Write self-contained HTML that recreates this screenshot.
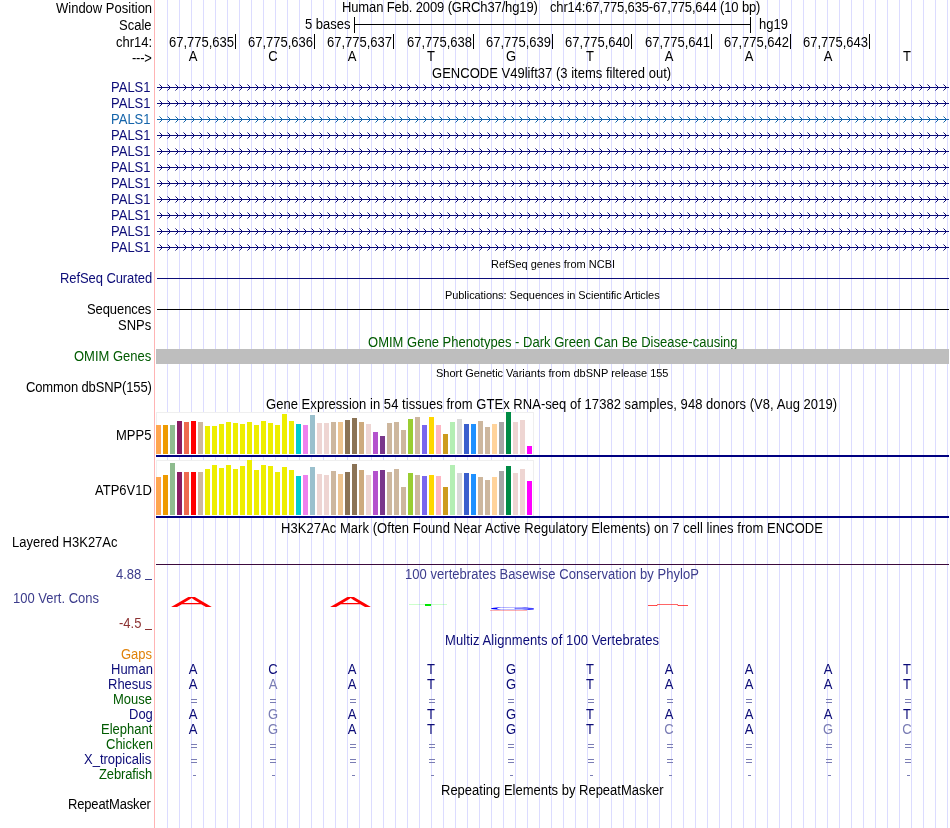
<!DOCTYPE html>
<html><head><meta charset="utf-8"><style>
html,body{margin:0;padding:0;background:#fff;}
#p{position:relative;width:950px;height:828px;overflow:hidden;background:#fff;font-family:"Liberation Sans",sans-serif;}
.t{position:absolute;white-space:pre;will-change:transform;transform:scaleY(1.06);}
.c{width:1000px;text-align:center;}
.r{position:absolute;}
</style></head><body><div id="p">
<div class="r" style="left:167px;top:0px;width:1px;height:828px;background:#dcdcff;"></div>
<div class="r" style="left:179px;top:0px;width:1px;height:828px;background:#dcdcff;"></div>
<div class="r" style="left:191px;top:0px;width:1px;height:828px;background:#dcdcff;"></div>
<div class="r" style="left:203px;top:0px;width:1px;height:828px;background:#dcdcff;"></div>
<div class="r" style="left:215px;top:0px;width:1px;height:828px;background:#dcdcff;"></div>
<div class="r" style="left:227px;top:0px;width:1px;height:828px;background:#dcdcff;"></div>
<div class="r" style="left:239px;top:0px;width:1px;height:828px;background:#dcdcff;"></div>
<div class="r" style="left:251px;top:0px;width:1px;height:828px;background:#dcdcff;"></div>
<div class="r" style="left:263px;top:0px;width:1px;height:828px;background:#dcdcff;"></div>
<div class="r" style="left:275px;top:0px;width:1px;height:828px;background:#dcdcff;"></div>
<div class="r" style="left:287px;top:0px;width:1px;height:828px;background:#dcdcff;"></div>
<div class="r" style="left:299px;top:0px;width:1px;height:828px;background:#dcdcff;"></div>
<div class="r" style="left:311px;top:0px;width:1px;height:828px;background:#dcdcff;"></div>
<div class="r" style="left:323px;top:0px;width:1px;height:828px;background:#dcdcff;"></div>
<div class="r" style="left:335px;top:0px;width:1px;height:828px;background:#dcdcff;"></div>
<div class="r" style="left:347px;top:0px;width:1px;height:828px;background:#dcdcff;"></div>
<div class="r" style="left:359px;top:0px;width:1px;height:828px;background:#dcdcff;"></div>
<div class="r" style="left:371px;top:0px;width:1px;height:828px;background:#dcdcff;"></div>
<div class="r" style="left:383px;top:0px;width:1px;height:828px;background:#dcdcff;"></div>
<div class="r" style="left:395px;top:0px;width:1px;height:828px;background:#dcdcff;"></div>
<div class="r" style="left:407px;top:0px;width:1px;height:828px;background:#dcdcff;"></div>
<div class="r" style="left:419px;top:0px;width:1px;height:828px;background:#dcdcff;"></div>
<div class="r" style="left:431px;top:0px;width:1px;height:828px;background:#dcdcff;"></div>
<div class="r" style="left:443px;top:0px;width:1px;height:828px;background:#dcdcff;"></div>
<div class="r" style="left:455px;top:0px;width:1px;height:828px;background:#dcdcff;"></div>
<div class="r" style="left:467px;top:0px;width:1px;height:828px;background:#dcdcff;"></div>
<div class="r" style="left:479px;top:0px;width:1px;height:828px;background:#dcdcff;"></div>
<div class="r" style="left:491px;top:0px;width:1px;height:828px;background:#dcdcff;"></div>
<div class="r" style="left:503px;top:0px;width:1px;height:828px;background:#dcdcff;"></div>
<div class="r" style="left:515px;top:0px;width:1px;height:828px;background:#dcdcff;"></div>
<div class="r" style="left:527px;top:0px;width:1px;height:828px;background:#dcdcff;"></div>
<div class="r" style="left:539px;top:0px;width:1px;height:828px;background:#dcdcff;"></div>
<div class="r" style="left:551px;top:0px;width:1px;height:828px;background:#dcdcff;"></div>
<div class="r" style="left:563px;top:0px;width:1px;height:828px;background:#dcdcff;"></div>
<div class="r" style="left:575px;top:0px;width:1px;height:828px;background:#dcdcff;"></div>
<div class="r" style="left:587px;top:0px;width:1px;height:828px;background:#dcdcff;"></div>
<div class="r" style="left:599px;top:0px;width:1px;height:828px;background:#dcdcff;"></div>
<div class="r" style="left:611px;top:0px;width:1px;height:828px;background:#dcdcff;"></div>
<div class="r" style="left:623px;top:0px;width:1px;height:828px;background:#dcdcff;"></div>
<div class="r" style="left:635px;top:0px;width:1px;height:828px;background:#dcdcff;"></div>
<div class="r" style="left:647px;top:0px;width:1px;height:828px;background:#dcdcff;"></div>
<div class="r" style="left:659px;top:0px;width:1px;height:828px;background:#dcdcff;"></div>
<div class="r" style="left:671px;top:0px;width:1px;height:828px;background:#dcdcff;"></div>
<div class="r" style="left:683px;top:0px;width:1px;height:828px;background:#dcdcff;"></div>
<div class="r" style="left:695px;top:0px;width:1px;height:828px;background:#dcdcff;"></div>
<div class="r" style="left:707px;top:0px;width:1px;height:828px;background:#dcdcff;"></div>
<div class="r" style="left:719px;top:0px;width:1px;height:828px;background:#dcdcff;"></div>
<div class="r" style="left:731px;top:0px;width:1px;height:828px;background:#dcdcff;"></div>
<div class="r" style="left:743px;top:0px;width:1px;height:828px;background:#dcdcff;"></div>
<div class="r" style="left:755px;top:0px;width:1px;height:828px;background:#dcdcff;"></div>
<div class="r" style="left:767px;top:0px;width:1px;height:828px;background:#dcdcff;"></div>
<div class="r" style="left:779px;top:0px;width:1px;height:828px;background:#dcdcff;"></div>
<div class="r" style="left:791px;top:0px;width:1px;height:828px;background:#dcdcff;"></div>
<div class="r" style="left:803px;top:0px;width:1px;height:828px;background:#dcdcff;"></div>
<div class="r" style="left:815px;top:0px;width:1px;height:828px;background:#dcdcff;"></div>
<div class="r" style="left:827px;top:0px;width:1px;height:828px;background:#dcdcff;"></div>
<div class="r" style="left:839px;top:0px;width:1px;height:828px;background:#dcdcff;"></div>
<div class="r" style="left:851px;top:0px;width:1px;height:828px;background:#dcdcff;"></div>
<div class="r" style="left:863px;top:0px;width:1px;height:828px;background:#dcdcff;"></div>
<div class="r" style="left:875px;top:0px;width:1px;height:828px;background:#dcdcff;"></div>
<div class="r" style="left:887px;top:0px;width:1px;height:828px;background:#dcdcff;"></div>
<div class="r" style="left:899px;top:0px;width:1px;height:828px;background:#dcdcff;"></div>
<div class="r" style="left:911px;top:0px;width:1px;height:828px;background:#dcdcff;"></div>
<div class="r" style="left:923px;top:0px;width:1px;height:828px;background:#dcdcff;"></div>
<div class="r" style="left:935px;top:0px;width:1px;height:828px;background:#dcdcff;"></div>
<div class="r" style="left:947px;top:0px;width:1px;height:828px;background:#dcdcff;"></div>
<div class="r" style="left:154px;top:0px;width:1px;height:828px;background:#ffb4b4;"></div>
<div class="t" style="left:56.25px;top:2px;font-size:13px;line-height:13px;color:#000;transform-origin:0 11px;">Window Position</div>
<div class="t" style="left:118.95px;top:19px;font-size:13px;line-height:13px;color:#000;transform-origin:0 11px;">Scale</div>
<div class="t" style="left:116.25px;top:36px;font-size:13px;line-height:13px;color:#000;transform-origin:0 11px;">chr14:</div>
<div class="t" style="left:132.0px;top:52px;font-size:13px;line-height:13px;color:#000;transform-origin:0 11px;letter-spacing:-0.25px;">---&gt;</div>
<div class="t" style="left:341.9px;top:1px;font-size:13px;line-height:13px;color:#000;transform-origin:0 11px;letter-spacing:-0.128px;">Human Feb. 2009 (GRCh37/hg19)</div>
<div class="t" style="left:550.4px;top:1px;font-size:13px;line-height:13px;color:#000;transform-origin:0 11px;letter-spacing:-0.147px;">chr14:67,775,635-67,775,644 (10 bp)</div>
<div class="t" style="left:304.65px;top:18px;font-size:13px;line-height:13px;color:#000;transform-origin:0 11px;">5 bases</div>
<div class="r" style="left:354px;top:24px;width:397px;height:1px;background:#000;"></div>
<div class="r" style="left:354px;top:17px;width:1px;height:16px;background:#000;"></div>
<div class="r" style="left:750px;top:17px;width:1px;height:16px;background:#000;"></div>
<div class="t" style="left:759.1px;top:18px;font-size:13px;line-height:13px;color:#000;transform-origin:0 11px;">hg19</div>
<div class="r" style="left:235px;top:34px;width:1px;height:15px;background:#000;"></div>
<div class="t" style="right:716px;top:36px;font-size:13px;line-height:13px;color:#000;transform-origin:0 11px;">67,775,635</div>
<div class="r" style="left:314px;top:34px;width:1px;height:15px;background:#000;"></div>
<div class="t" style="right:637px;top:36px;font-size:13px;line-height:13px;color:#000;transform-origin:0 11px;">67,775,636</div>
<div class="r" style="left:393px;top:34px;width:1px;height:15px;background:#000;"></div>
<div class="t" style="right:558px;top:36px;font-size:13px;line-height:13px;color:#000;transform-origin:0 11px;">67,775,637</div>
<div class="r" style="left:473px;top:34px;width:1px;height:15px;background:#000;"></div>
<div class="t" style="right:478px;top:36px;font-size:13px;line-height:13px;color:#000;transform-origin:0 11px;">67,775,638</div>
<div class="r" style="left:552px;top:34px;width:1px;height:15px;background:#000;"></div>
<div class="t" style="right:399px;top:36px;font-size:13px;line-height:13px;color:#000;transform-origin:0 11px;">67,775,639</div>
<div class="r" style="left:631px;top:34px;width:1px;height:15px;background:#000;"></div>
<div class="t" style="right:320px;top:36px;font-size:13px;line-height:13px;color:#000;transform-origin:0 11px;">67,775,640</div>
<div class="r" style="left:711px;top:34px;width:1px;height:15px;background:#000;"></div>
<div class="t" style="right:240px;top:36px;font-size:13px;line-height:13px;color:#000;transform-origin:0 11px;">67,775,641</div>
<div class="r" style="left:790px;top:34px;width:1px;height:15px;background:#000;"></div>
<div class="t" style="right:161px;top:36px;font-size:13px;line-height:13px;color:#000;transform-origin:0 11px;">67,775,642</div>
<div class="r" style="left:869px;top:34px;width:1px;height:15px;background:#000;"></div>
<div class="t" style="right:82px;top:36px;font-size:13px;line-height:13px;color:#000;transform-origin:0 11px;">67,775,643</div>
<div class="t c" style="left:-306.6px;top:50px;font-size:13px;line-height:13px;color:#000;transform-origin:0 11px;">A</div>
<div class="t c" style="left:-227.3px;top:50px;font-size:13px;line-height:13px;color:#000;transform-origin:0 11px;">C</div>
<div class="t c" style="left:-148.0px;top:50px;font-size:13px;line-height:13px;color:#000;transform-origin:0 11px;">A</div>
<div class="t c" style="left:-68.69999999999999px;top:50px;font-size:13px;line-height:13px;color:#000;transform-origin:0 11px;">T</div>
<div class="t c" style="left:10.599999999999966px;top:50px;font-size:13px;line-height:13px;color:#000;transform-origin:0 11px;">G</div>
<div class="t c" style="left:89.89999999999998px;top:50px;font-size:13px;line-height:13px;color:#000;transform-origin:0 11px;">T</div>
<div class="t c" style="left:169.19999999999993px;top:50px;font-size:13px;line-height:13px;color:#000;transform-origin:0 11px;">A</div>
<div class="t c" style="left:248.5px;top:50px;font-size:13px;line-height:13px;color:#000;transform-origin:0 11px;">A</div>
<div class="t c" style="left:327.79999999999995px;top:50px;font-size:13px;line-height:13px;color:#000;transform-origin:0 11px;">A</div>
<div class="t c" style="left:407.1px;top:50px;font-size:13px;line-height:13px;color:#000;transform-origin:0 11px;">T</div>
<div class="t" style="left:432.4px;top:67px;font-size:13px;line-height:13px;color:#000;transform-origin:0 11px;letter-spacing:0.02px;">GENCODE V49lift37 (3 items filtered out)</div>
<div class="t" style="left:111.0px;top:81px;font-size:13px;line-height:13px;color:#0c0c78;transform-origin:0 11px;">PALS1</div>
<svg class="r" style="left:155px;top:84px" width="795" height="7" shape-rendering="crispEdges"><defs><pattern id="ch0" x="0" y="0" width="8" height="7" patternUnits="userSpaceOnUse"><rect x="4" y="0" width="1" height="1" fill="#0c0c78" fill-opacity="0.55"/><rect x="5" y="1" width="1" height="1" fill="#0c0c78"/><rect x="6" y="2" width="1" height="3" fill="#0c0c78"/><rect x="5" y="5" width="1" height="1" fill="#0c0c78"/><rect x="4" y="6" width="1" height="1" fill="#0c0c78" fill-opacity="0.55"/></pattern></defs><rect x="2" y="3" width="792" height="1" fill="#0c0c78"/><rect x="2" y="0" width="792" height="7" fill="url(#ch0)"/></svg>
<div class="t" style="left:111.0px;top:97px;font-size:13px;line-height:13px;color:#0c0c78;transform-origin:0 11px;">PALS1</div>
<svg class="r" style="left:155px;top:100px" width="795" height="7" shape-rendering="crispEdges"><defs><pattern id="ch1" x="0" y="0" width="8" height="7" patternUnits="userSpaceOnUse"><rect x="4" y="0" width="1" height="1" fill="#0c0c78" fill-opacity="0.55"/><rect x="5" y="1" width="1" height="1" fill="#0c0c78"/><rect x="6" y="2" width="1" height="3" fill="#0c0c78"/><rect x="5" y="5" width="1" height="1" fill="#0c0c78"/><rect x="4" y="6" width="1" height="1" fill="#0c0c78" fill-opacity="0.55"/></pattern></defs><rect x="2" y="3" width="792" height="1" fill="#0c0c78"/><rect x="2" y="0" width="792" height="7" fill="url(#ch1)"/></svg>
<div class="t" style="left:111.0px;top:113px;font-size:13px;line-height:13px;color:#1464aa;transform-origin:0 11px;">PALS1</div>
<svg class="r" style="left:155px;top:116px" width="795" height="7" shape-rendering="crispEdges"><defs><pattern id="ch2" x="0" y="0" width="8" height="7" patternUnits="userSpaceOnUse"><rect x="4" y="0" width="1" height="1" fill="#1464aa" fill-opacity="0.55"/><rect x="5" y="1" width="1" height="1" fill="#1464aa"/><rect x="6" y="2" width="1" height="3" fill="#1464aa"/><rect x="5" y="5" width="1" height="1" fill="#1464aa"/><rect x="4" y="6" width="1" height="1" fill="#1464aa" fill-opacity="0.55"/></pattern></defs><rect x="2" y="3" width="792" height="1" fill="#1464aa"/><rect x="2" y="0" width="792" height="7" fill="url(#ch2)"/></svg>
<div class="t" style="left:111.0px;top:129px;font-size:13px;line-height:13px;color:#0c0c78;transform-origin:0 11px;">PALS1</div>
<svg class="r" style="left:155px;top:132px" width="795" height="7" shape-rendering="crispEdges"><defs><pattern id="ch3" x="0" y="0" width="8" height="7" patternUnits="userSpaceOnUse"><rect x="4" y="0" width="1" height="1" fill="#0c0c78" fill-opacity="0.55"/><rect x="5" y="1" width="1" height="1" fill="#0c0c78"/><rect x="6" y="2" width="1" height="3" fill="#0c0c78"/><rect x="5" y="5" width="1" height="1" fill="#0c0c78"/><rect x="4" y="6" width="1" height="1" fill="#0c0c78" fill-opacity="0.55"/></pattern></defs><rect x="2" y="3" width="792" height="1" fill="#0c0c78"/><rect x="2" y="0" width="792" height="7" fill="url(#ch3)"/></svg>
<div class="t" style="left:111.0px;top:145px;font-size:13px;line-height:13px;color:#0c0c78;transform-origin:0 11px;">PALS1</div>
<svg class="r" style="left:155px;top:148px" width="795" height="7" shape-rendering="crispEdges"><defs><pattern id="ch4" x="0" y="0" width="8" height="7" patternUnits="userSpaceOnUse"><rect x="4" y="0" width="1" height="1" fill="#0c0c78" fill-opacity="0.55"/><rect x="5" y="1" width="1" height="1" fill="#0c0c78"/><rect x="6" y="2" width="1" height="3" fill="#0c0c78"/><rect x="5" y="5" width="1" height="1" fill="#0c0c78"/><rect x="4" y="6" width="1" height="1" fill="#0c0c78" fill-opacity="0.55"/></pattern></defs><rect x="2" y="3" width="792" height="1" fill="#0c0c78"/><rect x="2" y="0" width="792" height="7" fill="url(#ch4)"/></svg>
<div class="t" style="left:111.0px;top:161px;font-size:13px;line-height:13px;color:#0c0c78;transform-origin:0 11px;">PALS1</div>
<svg class="r" style="left:155px;top:164px" width="795" height="7" shape-rendering="crispEdges"><defs><pattern id="ch5" x="0" y="0" width="8" height="7" patternUnits="userSpaceOnUse"><rect x="4" y="0" width="1" height="1" fill="#0c0c78" fill-opacity="0.55"/><rect x="5" y="1" width="1" height="1" fill="#0c0c78"/><rect x="6" y="2" width="1" height="3" fill="#0c0c78"/><rect x="5" y="5" width="1" height="1" fill="#0c0c78"/><rect x="4" y="6" width="1" height="1" fill="#0c0c78" fill-opacity="0.55"/></pattern></defs><rect x="2" y="3" width="792" height="1" fill="#0c0c78"/><rect x="2" y="0" width="792" height="7" fill="url(#ch5)"/></svg>
<div class="t" style="left:111.0px;top:177px;font-size:13px;line-height:13px;color:#0c0c78;transform-origin:0 11px;">PALS1</div>
<svg class="r" style="left:155px;top:180px" width="795" height="7" shape-rendering="crispEdges"><defs><pattern id="ch6" x="0" y="0" width="8" height="7" patternUnits="userSpaceOnUse"><rect x="4" y="0" width="1" height="1" fill="#0c0c78" fill-opacity="0.55"/><rect x="5" y="1" width="1" height="1" fill="#0c0c78"/><rect x="6" y="2" width="1" height="3" fill="#0c0c78"/><rect x="5" y="5" width="1" height="1" fill="#0c0c78"/><rect x="4" y="6" width="1" height="1" fill="#0c0c78" fill-opacity="0.55"/></pattern></defs><rect x="2" y="3" width="792" height="1" fill="#0c0c78"/><rect x="2" y="0" width="792" height="7" fill="url(#ch6)"/></svg>
<div class="t" style="left:111.0px;top:193px;font-size:13px;line-height:13px;color:#0c0c78;transform-origin:0 11px;">PALS1</div>
<svg class="r" style="left:155px;top:196px" width="795" height="7" shape-rendering="crispEdges"><defs><pattern id="ch7" x="0" y="0" width="8" height="7" patternUnits="userSpaceOnUse"><rect x="4" y="0" width="1" height="1" fill="#0c0c78" fill-opacity="0.55"/><rect x="5" y="1" width="1" height="1" fill="#0c0c78"/><rect x="6" y="2" width="1" height="3" fill="#0c0c78"/><rect x="5" y="5" width="1" height="1" fill="#0c0c78"/><rect x="4" y="6" width="1" height="1" fill="#0c0c78" fill-opacity="0.55"/></pattern></defs><rect x="2" y="3" width="792" height="1" fill="#0c0c78"/><rect x="2" y="0" width="792" height="7" fill="url(#ch7)"/></svg>
<div class="t" style="left:111.0px;top:209px;font-size:13px;line-height:13px;color:#0c0c78;transform-origin:0 11px;">PALS1</div>
<svg class="r" style="left:155px;top:212px" width="795" height="7" shape-rendering="crispEdges"><defs><pattern id="ch8" x="0" y="0" width="8" height="7" patternUnits="userSpaceOnUse"><rect x="4" y="0" width="1" height="1" fill="#0c0c78" fill-opacity="0.55"/><rect x="5" y="1" width="1" height="1" fill="#0c0c78"/><rect x="6" y="2" width="1" height="3" fill="#0c0c78"/><rect x="5" y="5" width="1" height="1" fill="#0c0c78"/><rect x="4" y="6" width="1" height="1" fill="#0c0c78" fill-opacity="0.55"/></pattern></defs><rect x="2" y="3" width="792" height="1" fill="#0c0c78"/><rect x="2" y="0" width="792" height="7" fill="url(#ch8)"/></svg>
<div class="t" style="left:111.0px;top:225px;font-size:13px;line-height:13px;color:#0c0c78;transform-origin:0 11px;">PALS1</div>
<svg class="r" style="left:155px;top:228px" width="795" height="7" shape-rendering="crispEdges"><defs><pattern id="ch9" x="0" y="0" width="8" height="7" patternUnits="userSpaceOnUse"><rect x="4" y="0" width="1" height="1" fill="#0c0c78" fill-opacity="0.55"/><rect x="5" y="1" width="1" height="1" fill="#0c0c78"/><rect x="6" y="2" width="1" height="3" fill="#0c0c78"/><rect x="5" y="5" width="1" height="1" fill="#0c0c78"/><rect x="4" y="6" width="1" height="1" fill="#0c0c78" fill-opacity="0.55"/></pattern></defs><rect x="2" y="3" width="792" height="1" fill="#0c0c78"/><rect x="2" y="0" width="792" height="7" fill="url(#ch9)"/></svg>
<div class="t" style="left:111.0px;top:241px;font-size:13px;line-height:13px;color:#0c0c78;transform-origin:0 11px;">PALS1</div>
<svg class="r" style="left:155px;top:244px" width="795" height="7" shape-rendering="crispEdges"><defs><pattern id="ch10" x="0" y="0" width="8" height="7" patternUnits="userSpaceOnUse"><rect x="4" y="0" width="1" height="1" fill="#0c0c78" fill-opacity="0.55"/><rect x="5" y="1" width="1" height="1" fill="#0c0c78"/><rect x="6" y="2" width="1" height="3" fill="#0c0c78"/><rect x="5" y="5" width="1" height="1" fill="#0c0c78"/><rect x="4" y="6" width="1" height="1" fill="#0c0c78" fill-opacity="0.55"/></pattern></defs><rect x="2" y="3" width="792" height="1" fill="#0c0c78"/><rect x="2" y="0" width="792" height="7" fill="url(#ch10)"/></svg>
<div class="t" style="left:490.5px;top:259px;font-size:11px;line-height:11px;color:#000;transform-origin:0 9px;">RefSeq genes from NCBI</div>
<div class="t" style="left:59.65px;top:272px;font-size:13px;line-height:13px;color:#0c0c78;transform-origin:0 11px;letter-spacing:-0.083px;">RefSeq Curated</div>
<div class="r" style="left:157px;top:278px;width:792px;height:1px;background:#0c0c78;"></div>
<div class="t" style="left:445px;top:290px;font-size:11px;line-height:11px;color:#000;transform-origin:0 9px;letter-spacing:-0.067px;">Publications: Sequences in Scientific Articles</div>
<div class="t" style="left:86.7px;top:303px;font-size:13px;line-height:13px;color:#000;transform-origin:0 11px;letter-spacing:-0.09px;">Sequences</div>
<div class="r" style="left:157px;top:309px;width:792px;height:1px;background:#000;"></div>
<div class="t" style="left:117.7px;top:319px;font-size:13px;line-height:13px;color:#000;transform-origin:0 11px;">SNPs</div>
<div class="t" style="left:367.6px;top:336px;font-size:13px;line-height:13px;color:#005a00;transform-origin:0 11px;letter-spacing:0.02px;">OMIM Gene Phenotypes - Dark Green Can Be Disease-causing</div>
<div class="t" style="left:74.1px;top:350px;font-size:13px;line-height:13px;color:#005a00;transform-origin:0 11px;">OMIM Genes</div>
<div class="r" style="left:156px;top:349px;width:793px;height:15px;background:#bebebe;"></div>
<div class="t" style="left:435.6px;top:368px;font-size:11px;line-height:11px;color:#000;transform-origin:0 9px;letter-spacing:-0.016px;">Short Genetic Variants from dbSNP release 155</div>
<div class="t" style="left:26.25px;top:381px;font-size:13px;line-height:13px;color:#000;transform-origin:0 11px;letter-spacing:-0.126px;">Common dbSNP(155)</div>
<div class="t" style="left:266.4px;top:398px;font-size:13px;line-height:13px;color:#000;transform-origin:0 11px;letter-spacing:0.042px;">Gene Expression in 54 tissues from GTEx RNA-seq of 17382 samples, 948 donors (V8, Aug 2019)</div>
<div class="r" style="left:156px;top:412px;width:378px;height:43px;background:#fff;box-shadow:inset 1px 1px 0 #efefef, inset -1px 0 0 #efefef"></div>
<div class="r" style="left:156px;top:425px;width:5px;height:29px;background:#FFA54F;"></div>
<div class="r" style="left:163px;top:425px;width:5px;height:29px;background:#EE9A00;"></div>
<div class="r" style="left:170px;top:425px;width:5px;height:29px;background:#8FBC8F;"></div>
<div class="r" style="left:177px;top:421px;width:5px;height:33px;background:#8B1C62;"></div>
<div class="r" style="left:184px;top:422px;width:5px;height:32px;background:#EE6A50;"></div>
<div class="r" style="left:191px;top:421px;width:5px;height:33px;background:#FF0000;"></div>
<div class="r" style="left:198px;top:422px;width:5px;height:32px;background:#CDB79E;"></div>
<div class="r" style="left:205px;top:426px;width:5px;height:28px;background:#EEEE00;"></div>
<div class="r" style="left:212px;top:426px;width:5px;height:28px;background:#EEEE00;"></div>
<div class="r" style="left:219px;top:424px;width:5px;height:30px;background:#EEEE00;"></div>
<div class="r" style="left:226px;top:422px;width:5px;height:32px;background:#EEEE00;"></div>
<div class="r" style="left:233px;top:423px;width:5px;height:31px;background:#EEEE00;"></div>
<div class="r" style="left:240px;top:424px;width:5px;height:30px;background:#EEEE00;"></div>
<div class="r" style="left:247px;top:422px;width:5px;height:32px;background:#EEEE00;"></div>
<div class="r" style="left:254px;top:425px;width:5px;height:29px;background:#EEEE00;"></div>
<div class="r" style="left:261px;top:421px;width:5px;height:33px;background:#EEEE00;"></div>
<div class="r" style="left:268px;top:423px;width:5px;height:31px;background:#EEEE00;"></div>
<div class="r" style="left:275px;top:425px;width:5px;height:29px;background:#EEEE00;"></div>
<div class="r" style="left:282px;top:414px;width:5px;height:40px;background:#EEEE00;"></div>
<div class="r" style="left:289px;top:421px;width:5px;height:33px;background:#EEEE00;"></div>
<div class="r" style="left:296px;top:424px;width:5px;height:30px;background:#00CDCD;"></div>
<div class="r" style="left:303px;top:425px;width:5px;height:29px;background:#EE82EE;"></div>
<div class="r" style="left:310px;top:415px;width:5px;height:39px;background:#9AC0CD;"></div>
<div class="r" style="left:317px;top:423px;width:5px;height:31px;background:#EED5D2;"></div>
<div class="r" style="left:324px;top:423px;width:5px;height:31px;background:#EED5D2;"></div>
<div class="r" style="left:331px;top:422px;width:5px;height:32px;background:#CDB79E;"></div>
<div class="r" style="left:338px;top:422px;width:5px;height:32px;background:#EEC591;"></div>
<div class="r" style="left:345px;top:420px;width:5px;height:34px;background:#8B7355;"></div>
<div class="r" style="left:352px;top:418px;width:5px;height:36px;background:#8B7355;"></div>
<div class="r" style="left:359px;top:422px;width:5px;height:32px;background:#CDAA7D;"></div>
<div class="r" style="left:366px;top:424px;width:5px;height:30px;background:#EED5D2;"></div>
<div class="r" style="left:373px;top:432px;width:5px;height:22px;background:#B452CD;"></div>
<div class="r" style="left:380px;top:436px;width:5px;height:18px;background:#7A378B;"></div>
<div class="r" style="left:387px;top:423px;width:5px;height:31px;background:#CDB79E;"></div>
<div class="r" style="left:394px;top:422px;width:5px;height:32px;background:#CDB79E;"></div>
<div class="r" style="left:401px;top:430px;width:5px;height:24px;background:#CDB79E;"></div>
<div class="r" style="left:408px;top:419px;width:5px;height:35px;background:#9ACD32;"></div>
<div class="r" style="left:415px;top:417px;width:5px;height:37px;background:#CDB79E;"></div>
<div class="r" style="left:422px;top:425px;width:5px;height:29px;background:#7A67EE;"></div>
<div class="r" style="left:429px;top:417px;width:5px;height:37px;background:#FFD700;"></div>
<div class="r" style="left:436px;top:425px;width:5px;height:29px;background:#FFB6C1;"></div>
<div class="r" style="left:443px;top:434px;width:5px;height:20px;background:#CD9B1D;"></div>
<div class="r" style="left:450px;top:422px;width:5px;height:32px;background:#B4EEB4;"></div>
<div class="r" style="left:457px;top:419px;width:5px;height:35px;background:#D9D9D9;"></div>
<div class="r" style="left:464px;top:424px;width:5px;height:30px;background:#3A5FCD;"></div>
<div class="r" style="left:471px;top:424px;width:5px;height:30px;background:#1E90FF;"></div>
<div class="r" style="left:478px;top:421px;width:5px;height:33px;background:#CDB79E;"></div>
<div class="r" style="left:485px;top:427px;width:5px;height:27px;background:#CDB79E;"></div>
<div class="r" style="left:492px;top:424px;width:5px;height:30px;background:#FFD39B;"></div>
<div class="r" style="left:499px;top:422px;width:5px;height:32px;background:#A6A6A6;"></div>
<div class="r" style="left:506px;top:412px;width:5px;height:42px;background:#008B45;"></div>
<div class="r" style="left:513px;top:422px;width:5px;height:32px;background:#EED5D2;"></div>
<div class="r" style="left:520px;top:420px;width:5px;height:34px;background:#EED5D2;"></div>
<div class="r" style="left:527px;top:446px;width:5px;height:8px;background:#FF00FF;"></div>
<div class="r" style="left:156px;top:455px;width:793px;height:2px;background:#000080;"></div>
<div class="t" style="left:116.35px;top:429px;font-size:13px;line-height:13px;color:#000;transform-origin:0 11px;">MPP5</div>
<div class="r" style="left:156px;top:460px;width:378px;height:56px;background:#fff;box-shadow:inset 1px 1px 0 #efefef, inset -1px 0 0 #efefef"></div>
<div class="r" style="left:156px;top:477px;width:5px;height:38px;background:#FFA54F;"></div>
<div class="r" style="left:163px;top:475px;width:5px;height:40px;background:#EE9A00;"></div>
<div class="r" style="left:170px;top:463px;width:5px;height:52px;background:#8FBC8F;"></div>
<div class="r" style="left:177px;top:472px;width:5px;height:43px;background:#8B1C62;"></div>
<div class="r" style="left:184px;top:472px;width:5px;height:43px;background:#EE6A50;"></div>
<div class="r" style="left:191px;top:472px;width:5px;height:43px;background:#FF0000;"></div>
<div class="r" style="left:198px;top:472px;width:5px;height:43px;background:#CDB79E;"></div>
<div class="r" style="left:205px;top:469px;width:5px;height:46px;background:#EEEE00;"></div>
<div class="r" style="left:212px;top:465px;width:5px;height:50px;background:#EEEE00;"></div>
<div class="r" style="left:219px;top:468px;width:5px;height:47px;background:#EEEE00;"></div>
<div class="r" style="left:226px;top:465px;width:5px;height:50px;background:#EEEE00;"></div>
<div class="r" style="left:233px;top:469px;width:5px;height:46px;background:#EEEE00;"></div>
<div class="r" style="left:240px;top:466px;width:5px;height:49px;background:#EEEE00;"></div>
<div class="r" style="left:247px;top:460px;width:5px;height:55px;background:#EEEE00;"></div>
<div class="r" style="left:254px;top:470px;width:5px;height:45px;background:#EEEE00;"></div>
<div class="r" style="left:261px;top:465px;width:5px;height:50px;background:#EEEE00;"></div>
<div class="r" style="left:268px;top:466px;width:5px;height:49px;background:#EEEE00;"></div>
<div class="r" style="left:275px;top:472px;width:5px;height:43px;background:#EEEE00;"></div>
<div class="r" style="left:282px;top:467px;width:5px;height:48px;background:#EEEE00;"></div>
<div class="r" style="left:289px;top:470px;width:5px;height:45px;background:#EEEE00;"></div>
<div class="r" style="left:296px;top:476px;width:5px;height:39px;background:#00CDCD;"></div>
<div class="r" style="left:303px;top:475px;width:5px;height:40px;background:#EE82EE;"></div>
<div class="r" style="left:310px;top:467px;width:5px;height:48px;background:#9AC0CD;"></div>
<div class="r" style="left:317px;top:474px;width:5px;height:41px;background:#EED5D2;"></div>
<div class="r" style="left:324px;top:475px;width:5px;height:40px;background:#EED5D2;"></div>
<div class="r" style="left:331px;top:471px;width:5px;height:44px;background:#CDB79E;"></div>
<div class="r" style="left:338px;top:474px;width:5px;height:41px;background:#EEC591;"></div>
<div class="r" style="left:345px;top:472px;width:5px;height:43px;background:#8B7355;"></div>
<div class="r" style="left:352px;top:464px;width:5px;height:51px;background:#8B7355;"></div>
<div class="r" style="left:359px;top:470px;width:5px;height:45px;background:#CDAA7D;"></div>
<div class="r" style="left:366px;top:475px;width:5px;height:40px;background:#EED5D2;"></div>
<div class="r" style="left:373px;top:471px;width:5px;height:44px;background:#B452CD;"></div>
<div class="r" style="left:380px;top:470px;width:5px;height:45px;background:#7A378B;"></div>
<div class="r" style="left:387px;top:472px;width:5px;height:43px;background:#CDB79E;"></div>
<div class="r" style="left:394px;top:469px;width:5px;height:46px;background:#CDB79E;"></div>
<div class="r" style="left:401px;top:487px;width:5px;height:28px;background:#CDB79E;"></div>
<div class="r" style="left:408px;top:473px;width:5px;height:42px;background:#9ACD32;"></div>
<div class="r" style="left:415px;top:475px;width:5px;height:40px;background:#CDB79E;"></div>
<div class="r" style="left:422px;top:476px;width:5px;height:39px;background:#7A67EE;"></div>
<div class="r" style="left:429px;top:475px;width:5px;height:40px;background:#FFD700;"></div>
<div class="r" style="left:436px;top:476px;width:5px;height:39px;background:#FFB6C1;"></div>
<div class="r" style="left:443px;top:487px;width:5px;height:28px;background:#CD9B1D;"></div>
<div class="r" style="left:450px;top:465px;width:5px;height:50px;background:#B4EEB4;"></div>
<div class="r" style="left:457px;top:473px;width:5px;height:42px;background:#D9D9D9;"></div>
<div class="r" style="left:464px;top:473px;width:5px;height:42px;background:#3A5FCD;"></div>
<div class="r" style="left:471px;top:474px;width:5px;height:41px;background:#1E90FF;"></div>
<div class="r" style="left:478px;top:477px;width:5px;height:38px;background:#CDB79E;"></div>
<div class="r" style="left:485px;top:480px;width:5px;height:35px;background:#CDB79E;"></div>
<div class="r" style="left:492px;top:477px;width:5px;height:38px;background:#FFD39B;"></div>
<div class="r" style="left:499px;top:471px;width:5px;height:44px;background:#A6A6A6;"></div>
<div class="r" style="left:506px;top:466px;width:5px;height:49px;background:#008B45;"></div>
<div class="r" style="left:513px;top:473px;width:5px;height:42px;background:#EED5D2;"></div>
<div class="r" style="left:520px;top:469px;width:5px;height:46px;background:#EED5D2;"></div>
<div class="r" style="left:527px;top:481px;width:5px;height:34px;background:#FF00FF;"></div>
<div class="r" style="left:156px;top:516px;width:793px;height:2px;background:#000080;"></div>
<div class="t" style="left:95.05px;top:484px;font-size:13px;line-height:13px;color:#000;transform-origin:0 11px;">ATP6V1D</div>
<div class="t" style="left:280.7px;top:522px;font-size:13px;line-height:13px;color:#000;transform-origin:0 11px;letter-spacing:0.052px;">H3K27Ac Mark (Often Found Near Active Regulatory Elements) on 7 cell lines from ENCODE</div>
<div class="t" style="left:12.25px;top:536px;font-size:13px;line-height:13px;color:#000;transform-origin:0 11px;">Layered H3K27Ac</div>
<div class="r" style="left:156px;top:564px;width:793px;height:1px;background:#3c0a3c;"></div>
<div class="t" style="left:405px;top:568px;font-size:13px;line-height:13px;color:#3c3c8c;transform-origin:0 11px;letter-spacing:0.042px;">100 vertebrates Basewise Conservation by PhyloP</div>
<div class="t" style="left:115.8px;top:568px;font-size:13px;line-height:13px;color:#3c3c8c;transform-origin:0 11px;">4.88</div>
<div class="r" style="left:145px;top:579px;width:7px;height:1px;background:#3c3c8c;"></div>
<div class="t" style="left:13.15px;top:592px;font-size:13px;line-height:13px;color:#3c3c8c;transform-origin:0 11px;">100 Vert. Cons</div>
<div class="t" style="left:119.05px;top:617px;font-size:13px;line-height:13px;color:#8c3232;transform-origin:0 11px;">-4.5</div>
<div class="r" style="left:145px;top:629px;width:7px;height:1px;background:#8c3232;"></div>
<svg class="r" style="left:0;top:0" width="950" height="828"><text transform="translate(171.10,607.00) scale(0.3068,0.0730)" font-family="Liberation Sans" font-size="200" fill="#ff0000" fill-opacity="1">A</text><text transform="translate(330.10,606.90) scale(0.3076,0.0737)" font-family="Liberation Sans" font-size="200" fill="#ff0000" fill-opacity="1">A</text><rect x="409" y="604" width="38" height="1" fill="#00ff00" fill-opacity="0.2"/><rect x="425" y="604" width="6" height="2" fill="#00e600"/><text transform="translate(487.60,609.70) scale(0.3305,0.0197)" font-family="Liberation Sans" font-size="200" fill="#0000ff" fill-opacity="1">G</text><rect x="648" y="605" width="9" height="1" fill="#ff0000" fill-opacity="0.7"/><rect x="657" y="604" width="21" height="1" fill="#ff0000" fill-opacity="0.6"/><rect x="656" y="605" width="2" height="1" fill="#ff0000" fill-opacity="0.3"/><rect x="677" y="605" width="2" height="1" fill="#ff0000" fill-opacity="0.3"/><rect x="678" y="605" width="10" height="1" fill="#ff0000" fill-opacity="0.7"/><rect x="490" y="610" width="37" height="1" fill="#ff0000" fill-opacity="0.3"/></svg>
<div class="t" style="left:444.9px;top:634px;font-size:13px;line-height:13px;color:#0c0c78;transform-origin:0 11px;letter-spacing:0.089px;">Multiz Alignments of 100 Vertebrates</div>
<div class="t" style="left:120.65px;top:648px;font-size:13px;line-height:13px;color:#e0820a;transform-origin:0 11px;">Gaps</div>
<div class="t" style="left:110.6px;top:663px;font-size:13px;line-height:13px;color:#0c0c78;transform-origin:0 11px;">Human</div>
<div class="t" style="left:107.55px;top:678px;font-size:13px;line-height:13px;color:#0c0c78;transform-origin:0 11px;">Rhesus</div>
<div class="t" style="left:112.75px;top:693px;font-size:13px;line-height:13px;color:#005a00;transform-origin:0 11px;">Mouse</div>
<div class="t" style="left:128.65px;top:708px;font-size:13px;line-height:13px;color:#0c0c78;transform-origin:0 11px;">Dog</div>
<div class="t" style="left:100.5px;top:723px;font-size:13px;line-height:13px;color:#005a00;transform-origin:0 11px;">Elephant</div>
<div class="t" style="left:105.55px;top:738px;font-size:13px;line-height:13px;color:#005a00;transform-origin:0 11px;">Chicken</div>
<div class="t" style="left:84.45px;top:753px;font-size:13px;line-height:13px;color:#0c0c78;transform-origin:0 11px;">X_tropicalis</div>
<div class="t" style="left:98.5px;top:768px;font-size:13px;line-height:13px;color:#005a00;transform-origin:0 11px;letter-spacing:-0.12px;">Zebrafish</div>
<div class="t c" style="left:-306.6px;top:663px;font-size:13px;line-height:13px;color:#0c0c78;transform-origin:0 11px;">A</div>
<div class="t c" style="left:-227.3px;top:663px;font-size:13px;line-height:13px;color:#0c0c78;transform-origin:0 11px;">C</div>
<div class="t c" style="left:-148.0px;top:663px;font-size:13px;line-height:13px;color:#0c0c78;transform-origin:0 11px;">A</div>
<div class="t c" style="left:-68.69999999999999px;top:663px;font-size:13px;line-height:13px;color:#0c0c78;transform-origin:0 11px;">T</div>
<div class="t c" style="left:10.599999999999966px;top:663px;font-size:13px;line-height:13px;color:#0c0c78;transform-origin:0 11px;">G</div>
<div class="t c" style="left:89.89999999999998px;top:663px;font-size:13px;line-height:13px;color:#0c0c78;transform-origin:0 11px;">T</div>
<div class="t c" style="left:169.19999999999993px;top:663px;font-size:13px;line-height:13px;color:#0c0c78;transform-origin:0 11px;">A</div>
<div class="t c" style="left:248.5px;top:663px;font-size:13px;line-height:13px;color:#0c0c78;transform-origin:0 11px;">A</div>
<div class="t c" style="left:327.79999999999995px;top:663px;font-size:13px;line-height:13px;color:#0c0c78;transform-origin:0 11px;">A</div>
<div class="t c" style="left:407.1px;top:663px;font-size:13px;line-height:13px;color:#0c0c78;transform-origin:0 11px;">T</div>
<div class="t c" style="left:-306.6px;top:678px;font-size:13px;line-height:13px;color:#0c0c78;transform-origin:0 11px;">A</div>
<div class="t c" style="left:-227.3px;top:678px;font-size:13px;line-height:13px;color:#7a7db4;transform-origin:0 11px;">A</div>
<div class="t c" style="left:-148.0px;top:678px;font-size:13px;line-height:13px;color:#0c0c78;transform-origin:0 11px;">A</div>
<div class="t c" style="left:-68.69999999999999px;top:678px;font-size:13px;line-height:13px;color:#0c0c78;transform-origin:0 11px;">T</div>
<div class="t c" style="left:10.599999999999966px;top:678px;font-size:13px;line-height:13px;color:#0c0c78;transform-origin:0 11px;">G</div>
<div class="t c" style="left:89.89999999999998px;top:678px;font-size:13px;line-height:13px;color:#0c0c78;transform-origin:0 11px;">T</div>
<div class="t c" style="left:169.19999999999993px;top:678px;font-size:13px;line-height:13px;color:#0c0c78;transform-origin:0 11px;">A</div>
<div class="t c" style="left:248.5px;top:678px;font-size:13px;line-height:13px;color:#0c0c78;transform-origin:0 11px;">A</div>
<div class="t c" style="left:327.79999999999995px;top:678px;font-size:13px;line-height:13px;color:#0c0c78;transform-origin:0 11px;">A</div>
<div class="t c" style="left:407.1px;top:678px;font-size:13px;line-height:13px;color:#0c0c78;transform-origin:0 11px;">T</div>
<div class="r" style="left:191px;top:699px;width:6px;height:1px;background:#7a7db4;"></div>
<div class="r" style="left:191px;top:702px;width:6px;height:1px;background:#7a7db4;"></div>
<div class="r" style="left:270px;top:699px;width:6px;height:1px;background:#7a7db4;"></div>
<div class="r" style="left:270px;top:702px;width:6px;height:1px;background:#7a7db4;"></div>
<div class="r" style="left:350px;top:699px;width:6px;height:1px;background:#7a7db4;"></div>
<div class="r" style="left:350px;top:702px;width:6px;height:1px;background:#7a7db4;"></div>
<div class="r" style="left:429px;top:699px;width:6px;height:1px;background:#7a7db4;"></div>
<div class="r" style="left:429px;top:702px;width:6px;height:1px;background:#7a7db4;"></div>
<div class="r" style="left:508px;top:699px;width:6px;height:1px;background:#7a7db4;"></div>
<div class="r" style="left:508px;top:702px;width:6px;height:1px;background:#7a7db4;"></div>
<div class="r" style="left:588px;top:699px;width:6px;height:1px;background:#7a7db4;"></div>
<div class="r" style="left:588px;top:702px;width:6px;height:1px;background:#7a7db4;"></div>
<div class="r" style="left:667px;top:699px;width:6px;height:1px;background:#7a7db4;"></div>
<div class="r" style="left:667px;top:702px;width:6px;height:1px;background:#7a7db4;"></div>
<div class="r" style="left:746px;top:699px;width:6px;height:1px;background:#7a7db4;"></div>
<div class="r" style="left:746px;top:702px;width:6px;height:1px;background:#7a7db4;"></div>
<div class="r" style="left:826px;top:699px;width:6px;height:1px;background:#7a7db4;"></div>
<div class="r" style="left:826px;top:702px;width:6px;height:1px;background:#7a7db4;"></div>
<div class="r" style="left:905px;top:699px;width:6px;height:1px;background:#7a7db4;"></div>
<div class="r" style="left:905px;top:702px;width:6px;height:1px;background:#7a7db4;"></div>
<div class="t c" style="left:-306.6px;top:708px;font-size:13px;line-height:13px;color:#0c0c78;transform-origin:0 11px;">A</div>
<div class="t c" style="left:-227.3px;top:708px;font-size:13px;line-height:13px;color:#7a7db4;transform-origin:0 11px;">G</div>
<div class="t c" style="left:-148.0px;top:708px;font-size:13px;line-height:13px;color:#0c0c78;transform-origin:0 11px;">A</div>
<div class="t c" style="left:-68.69999999999999px;top:708px;font-size:13px;line-height:13px;color:#0c0c78;transform-origin:0 11px;">T</div>
<div class="t c" style="left:10.599999999999966px;top:708px;font-size:13px;line-height:13px;color:#0c0c78;transform-origin:0 11px;">G</div>
<div class="t c" style="left:89.89999999999998px;top:708px;font-size:13px;line-height:13px;color:#0c0c78;transform-origin:0 11px;">T</div>
<div class="t c" style="left:169.19999999999993px;top:708px;font-size:13px;line-height:13px;color:#0c0c78;transform-origin:0 11px;">A</div>
<div class="t c" style="left:248.5px;top:708px;font-size:13px;line-height:13px;color:#0c0c78;transform-origin:0 11px;">A</div>
<div class="t c" style="left:327.79999999999995px;top:708px;font-size:13px;line-height:13px;color:#0c0c78;transform-origin:0 11px;">A</div>
<div class="t c" style="left:407.1px;top:708px;font-size:13px;line-height:13px;color:#0c0c78;transform-origin:0 11px;">T</div>
<div class="t c" style="left:-306.6px;top:723px;font-size:13px;line-height:13px;color:#0c0c78;transform-origin:0 11px;">A</div>
<div class="t c" style="left:-227.3px;top:723px;font-size:13px;line-height:13px;color:#7a7db4;transform-origin:0 11px;">G</div>
<div class="t c" style="left:-148.0px;top:723px;font-size:13px;line-height:13px;color:#0c0c78;transform-origin:0 11px;">A</div>
<div class="t c" style="left:-68.69999999999999px;top:723px;font-size:13px;line-height:13px;color:#0c0c78;transform-origin:0 11px;">T</div>
<div class="t c" style="left:10.599999999999966px;top:723px;font-size:13px;line-height:13px;color:#0c0c78;transform-origin:0 11px;">G</div>
<div class="t c" style="left:89.89999999999998px;top:723px;font-size:13px;line-height:13px;color:#0c0c78;transform-origin:0 11px;">T</div>
<div class="t c" style="left:169.19999999999993px;top:723px;font-size:13px;line-height:13px;color:#7a7db4;transform-origin:0 11px;">C</div>
<div class="t c" style="left:248.5px;top:723px;font-size:13px;line-height:13px;color:#0c0c78;transform-origin:0 11px;">A</div>
<div class="t c" style="left:327.79999999999995px;top:723px;font-size:13px;line-height:13px;color:#7a7db4;transform-origin:0 11px;">G</div>
<div class="t c" style="left:407.1px;top:723px;font-size:13px;line-height:13px;color:#7a7db4;transform-origin:0 11px;">C</div>
<div class="r" style="left:191px;top:744px;width:6px;height:1px;background:#7a7db4;"></div>
<div class="r" style="left:191px;top:747px;width:6px;height:1px;background:#7a7db4;"></div>
<div class="r" style="left:270px;top:744px;width:6px;height:1px;background:#7a7db4;"></div>
<div class="r" style="left:270px;top:747px;width:6px;height:1px;background:#7a7db4;"></div>
<div class="r" style="left:350px;top:744px;width:6px;height:1px;background:#7a7db4;"></div>
<div class="r" style="left:350px;top:747px;width:6px;height:1px;background:#7a7db4;"></div>
<div class="r" style="left:429px;top:744px;width:6px;height:1px;background:#7a7db4;"></div>
<div class="r" style="left:429px;top:747px;width:6px;height:1px;background:#7a7db4;"></div>
<div class="r" style="left:508px;top:744px;width:6px;height:1px;background:#7a7db4;"></div>
<div class="r" style="left:508px;top:747px;width:6px;height:1px;background:#7a7db4;"></div>
<div class="r" style="left:588px;top:744px;width:6px;height:1px;background:#7a7db4;"></div>
<div class="r" style="left:588px;top:747px;width:6px;height:1px;background:#7a7db4;"></div>
<div class="r" style="left:667px;top:744px;width:6px;height:1px;background:#7a7db4;"></div>
<div class="r" style="left:667px;top:747px;width:6px;height:1px;background:#7a7db4;"></div>
<div class="r" style="left:746px;top:744px;width:6px;height:1px;background:#7a7db4;"></div>
<div class="r" style="left:746px;top:747px;width:6px;height:1px;background:#7a7db4;"></div>
<div class="r" style="left:826px;top:744px;width:6px;height:1px;background:#7a7db4;"></div>
<div class="r" style="left:826px;top:747px;width:6px;height:1px;background:#7a7db4;"></div>
<div class="r" style="left:905px;top:744px;width:6px;height:1px;background:#7a7db4;"></div>
<div class="r" style="left:905px;top:747px;width:6px;height:1px;background:#7a7db4;"></div>
<div class="r" style="left:191px;top:759px;width:6px;height:1px;background:#7a7db4;"></div>
<div class="r" style="left:191px;top:762px;width:6px;height:1px;background:#7a7db4;"></div>
<div class="r" style="left:270px;top:759px;width:6px;height:1px;background:#7a7db4;"></div>
<div class="r" style="left:270px;top:762px;width:6px;height:1px;background:#7a7db4;"></div>
<div class="r" style="left:350px;top:759px;width:6px;height:1px;background:#7a7db4;"></div>
<div class="r" style="left:350px;top:762px;width:6px;height:1px;background:#7a7db4;"></div>
<div class="r" style="left:429px;top:759px;width:6px;height:1px;background:#7a7db4;"></div>
<div class="r" style="left:429px;top:762px;width:6px;height:1px;background:#7a7db4;"></div>
<div class="r" style="left:508px;top:759px;width:6px;height:1px;background:#7a7db4;"></div>
<div class="r" style="left:508px;top:762px;width:6px;height:1px;background:#7a7db4;"></div>
<div class="r" style="left:588px;top:759px;width:6px;height:1px;background:#7a7db4;"></div>
<div class="r" style="left:588px;top:762px;width:6px;height:1px;background:#7a7db4;"></div>
<div class="r" style="left:667px;top:759px;width:6px;height:1px;background:#7a7db4;"></div>
<div class="r" style="left:667px;top:762px;width:6px;height:1px;background:#7a7db4;"></div>
<div class="r" style="left:746px;top:759px;width:6px;height:1px;background:#7a7db4;"></div>
<div class="r" style="left:746px;top:762px;width:6px;height:1px;background:#7a7db4;"></div>
<div class="r" style="left:826px;top:759px;width:6px;height:1px;background:#7a7db4;"></div>
<div class="r" style="left:826px;top:762px;width:6px;height:1px;background:#7a7db4;"></div>
<div class="r" style="left:905px;top:759px;width:6px;height:1px;background:#7a7db4;"></div>
<div class="r" style="left:905px;top:762px;width:6px;height:1px;background:#7a7db4;"></div>
<div class="r" style="left:193px;top:775px;width:3px;height:1px;background:#7a7db4;"></div>
<div class="r" style="left:272px;top:775px;width:3px;height:1px;background:#7a7db4;"></div>
<div class="r" style="left:352px;top:775px;width:3px;height:1px;background:#7a7db4;"></div>
<div class="r" style="left:431px;top:775px;width:3px;height:1px;background:#7a7db4;"></div>
<div class="r" style="left:510px;top:775px;width:3px;height:1px;background:#7a7db4;"></div>
<div class="r" style="left:590px;top:775px;width:3px;height:1px;background:#7a7db4;"></div>
<div class="r" style="left:669px;top:775px;width:3px;height:1px;background:#7a7db4;"></div>
<div class="r" style="left:748px;top:775px;width:3px;height:1px;background:#7a7db4;"></div>
<div class="r" style="left:828px;top:775px;width:3px;height:1px;background:#7a7db4;"></div>
<div class="r" style="left:907px;top:775px;width:3px;height:1px;background:#7a7db4;"></div>
<div class="t" style="left:440.8px;top:784px;font-size:13px;line-height:13px;color:#000;transform-origin:0 11px;">Repeating Elements by RepeatMasker</div>
<div class="t" style="left:68.2px;top:798px;font-size:13px;line-height:13px;color:#000;transform-origin:0 11px;letter-spacing:-0.16px;">RepeatMasker</div>
</div></body></html>
